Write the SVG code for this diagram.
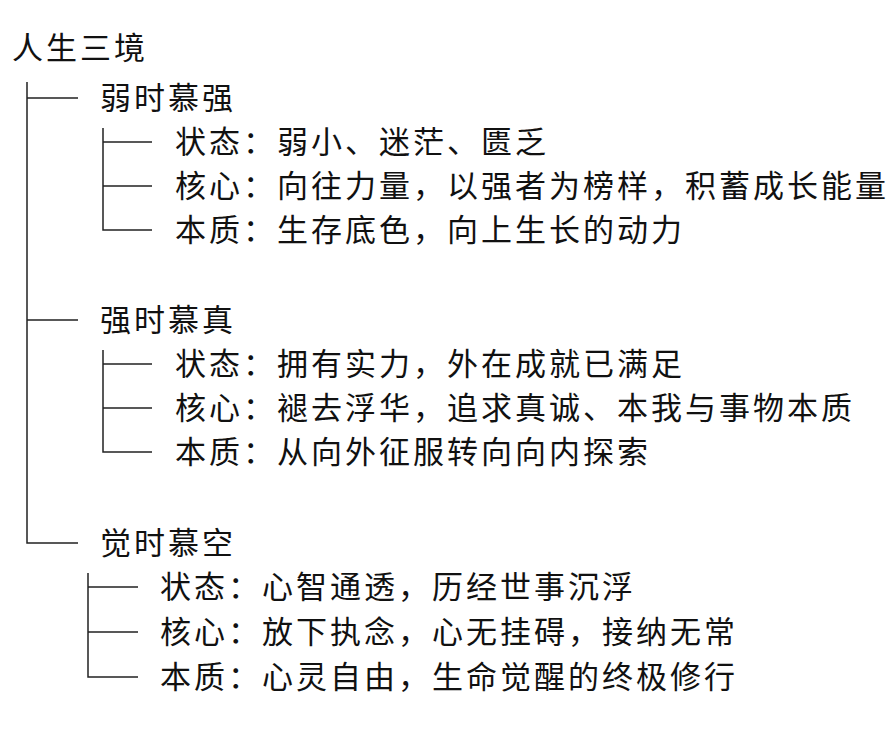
<svg xmlns="http://www.w3.org/2000/svg" width="892" height="746" viewBox="0 0 892 746">
<style>
text{font-family:"Noto Sans CJK SC","Noto Sans",sans-serif;font-size:31px;fill:#111;letter-spacing:3px}
.l{stroke:#222;stroke-width:1.5;fill:none}
</style>
<rect width="892" height="746" fill="#fff"/>
<g id="connectors">
<path class="l" d="M27 82V543H78M27 98H78M27 320H78"/>
<path class="l" d="M103 128V230H152M103 142H152M103 186H152"/>
<path class="l" d="M103 350V452H152M103 364H152M103 408H152"/>
<path class="l" d="M88 573V677H138M88 587H138M88 632H138"/>
</g>
<g id="root"><text x="12" y="59">人生三境</text></g>
<g id="n1"><text x="100" y="109">弱时慕强</text></g>
<g id="n1a"><text x="175" y="153">状态：弱小、迷茫、匮乏</text></g>
<g id="n1b"><text x="175" y="197">核心：向往力量，以强者为榜样，积蓄成长能量</text></g>
<g id="n1c"><text x="175" y="241">本质：生存底色，向上生长的动力</text></g>
<g id="n2"><text x="100" y="331">强时慕真</text></g>
<g id="n2a"><text x="175" y="375">状态：拥有实力，外在成就已满足</text></g>
<g id="n2b"><text x="175" y="419">核心：褪去浮华，追求真诚、本我与事物本质</text></g>
<g id="n2c"><text x="175" y="463">本质：从向外征服转向向内探索</text></g>
<g id="n3"><text x="100" y="554">觉时慕空</text></g>
<g id="n3a"><text x="160" y="598">状态：心智通透，历经世事沉浮</text></g>
<g id="n3b"><text x="160" y="643">核心：放下执念，心无挂碍，接纳无常</text></g>
<g id="n3c"><text x="160" y="688">本质：心灵自由，生命觉醒的终极修行</text></g>
</svg>
